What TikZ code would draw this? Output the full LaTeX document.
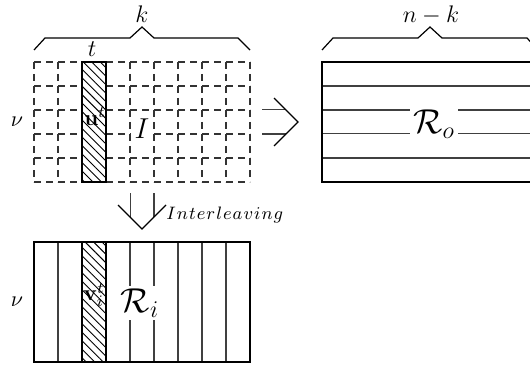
\documentclass[tikz,border=0pt]{standalone}
\usetikzlibrary{patterns.meta}
\begin{document}
\begin{tikzpicture}[x=0.5pt,y=-0.5pt,
  thinline/.style={line width=0.55pt, black!75},
  frame/.style={line width=1.1pt},
  gridline/.style={line width=0.6pt, black!80, dash pattern=on 3.5pt off 2.5pt},
  hatch/.style={pattern={Lines[angle=-45,distance=3pt,line width=0.45pt]}},
  brace/.style={line width=0.6pt},
  shaft/.style={line width=0.6pt, black!75},
  chevron/.style={line width=0.6pt},
  lab/.style={inner sep=0pt, font=\fontsize{12}{14}\selectfont},
  small/.style={inner sep=0pt, font=\fontsize{10.95}{13}\selectfont},
  big/.style={fill=white, inner sep=1.5pt, font=\fontsize{17.28}{20}\selectfont}]
\useasboundingbox (0,0) rectangle (530,369);

% ---------- top-left dashed grid I ----------
\foreach \x in {34,58,...,250} \draw[gridline] (\x,62) -- (\x,182);
\foreach \y in {62,86,...,182} \draw[gridline] (34,\y) -- (250,\y);
\fill[white] (82,62) rectangle (106,182);
\draw[frame, hatch] (82,62) rectangle (106,182);
\node[fill=white, inner sep=0pt, minimum width=11pt, minimum height=18pt, font=\fontsize{14.4}{17}\selectfont] (I) at (142,129) {$I$};
\node[small] (u) at (95,117) {$\mathbf{u}^t$};
\node[small] (nu1) at (17,122) {$\nu$};
\node[lab] (t) at (92,49) {$t$};

% brace over I
\coordinate (b1a) at (34,50);
\coordinate (b1b) at (250,50);
\draw[brace] (b1a) -- (45,38) -- (130,38) -- (142,27) -- (154,38) -- (238,38) -- (b1b);
\node[lab] (k) at (142,14) {$k$};

% ---------- right arrow ----------
\coordinate (ra1) at (262,109.5);
\coordinate (ra2) at (262,134);
\draw[shaft] (ra1) -- (285.5,109.5);
\draw[shaft] (ra2) -- (285.5,134);
\draw[chevron] (274,98) -- (298,122) -- (274,146);

% ---------- right box R_o ----------
\foreach \y in {86,110,133.5,158} \draw[thinline] (322,\y) -- (538,\y);
\draw[frame] (322,62) rectangle (538,182);
\node[big] (Ro) at (434,124) {$\mathcal{R}_o$};
\draw[brace] (322,50) -- (333,38) -- (418,38) -- (430,27) -- (442,38) -- (527,38) -- (538,50);
\node[lab] (nk) at (431,15) {$n-k$};

% ---------- down arrow ----------
\coordinate (da1) at (130.5,193);
\coordinate (da2) at (154,193);
\draw[shaft] (da1) -- (130.5,217.5);
\draw[shaft] (da2) -- (154,217);
\draw[chevron] (118,205) -- (142,229) -- (166,205);
\node[anchor=base west, inner sep=0pt, font=\fontsize{9}{11}\selectfont] (il) at (166,220)
  {$I\mkern1mu n\mkern1mu t\mkern1mu e\mkern1mu r\mkern1mu l\mkern1mu e\mkern1mu a\mkern1mu v\mkern1mu i\mkern1mu n\mkern1mu g$};

% ---------- bottom box R_i ----------
\foreach \x in {58,130,154,178,202,226} \draw[thinline] (\x,242) -- (\x,362);
\draw[frame] (34,242) rectangle (250,362);
\fill[white] (82,242) rectangle (106,362);
\draw[frame, hatch] (82,242) rectangle (106,362);
\node[big] (Ri) at (140,303) {$\mathcal{R}_i$};
\node[small] (v) at (94,295) {$\mathbf{v}_i^t$};
\node[small] (nu2) at (17,302) {$\nu$};
\end{tikzpicture}
\end{document}
